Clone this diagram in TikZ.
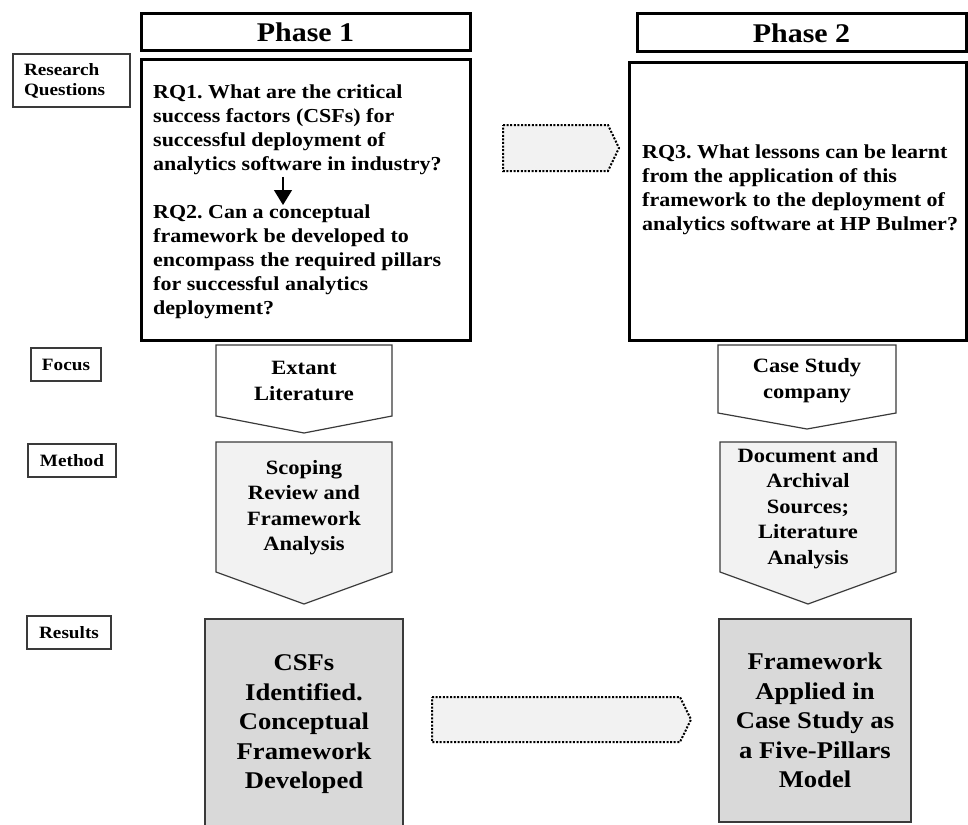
\documentclass[tikz,border=0pt]{standalone}
\usepackage{fontspec}
\setmainfont{Liberation Serif}[FakeStretch=1.11]
\usetikzlibrary{arrows.meta}
\definecolor{lightfill}{HTML}{F2F2F2}
\definecolor{resfill}{HTML}{D9D9D9}
\definecolor{edgegray}{HTML}{3A3A3A}
\frenchspacing
\begin{document}
\begin{tikzpicture}[x=1pt,y=-1pt]
\useasboundingbox (0,0) rectangle (968,824);
\tikzset{
  hdr/.style={draw=black, line width=3pt, inner sep=0pt},
  lblbox/.style={draw=edgegray, line width=1.3pt, inner sep=0pt,
     font=\fontsize{17.3}{20}\selectfont\bfseries},
  bodytext/.style={inner sep=0pt, align=left, anchor=north west,
     font=\fontsize{19.8}{24}\selectfont\bfseries},
  midtext/.style={inner sep=0pt, align=center,
     font=\fontsize{20.3}{25.5}\selectfont\bfseries},
  restext/.style={draw=edgegray, fill=resfill, line width=1.5pt, inner sep=0pt, align=center,
     font=\fontsize{24}{29.5}\selectfont\bfseries},
  penta/.style={draw=edgegray, line width=1.2pt, line join=miter},
  dotarrow/.style={draw=black, fill=lightfill, line width=2pt, dash pattern=on 2pt off 1.6pt},
}
% phase headers
\node[hdr, minimum width=329pt, minimum height=37pt, font=\fontsize{27}{30}\selectfont\bfseries] (ph1) at (305.5,32.5) {Phase 1};
\node[hdr, minimum width=329pt, minimum height=38pt, font=\fontsize{27}{30}\selectfont\bfseries] (ph2) at (801.5,33) {Phase 2};

% row labels
\node[lblbox, minimum width=117pt, minimum height=53pt, text width=95pt, inner xsep=11pt, align=left] (lrq) at (71.5,80.5) {Research\\Questions};
\node[lblbox, minimum width=70pt, minimum height=33pt] (lfocus) at (66,364.5) {Focus};
\node[lblbox, minimum width=88pt, minimum height=33pt] (lmethod) at (72,460.5) {Method};
\node[lblbox, minimum width=84pt, minimum height=33pt] (lresults) at (69,632.5) {Results};

% research question boxes
\node[hdr, minimum width=329pt, minimum height=280pt] (rqbox1) at (305.5,200) {};
\node[hdr, minimum width=337pt, minimum height=277pt] (rqbox2) at (797.5,201.5) {};

\node[bodytext] (rq1) at (153,85) {RQ1. What are the critical\\success factors (CSFs) for\\successful deployment of\\analytics software in industry?};
\node[bodytext] (rq2) at (153,205) {RQ2. Can a conceptual\\framework be developed to\\encompass the required pillars\\for successful analytics\\deployment?};
\node[bodytext] (rq3) at (642,145) {RQ3. What lessons can be learnt\\from the application of this\\framework to the deployment of\\analytics software at HP Bulmer?};

\coordinate (ax) at (283,0);
\draw[line width=1.3pt, -{Triangle[width=18pt,length=15pt]}] (rq1.south -| ax) ++(0,1.5) -- (rq2.north -| ax);

% dotted arrow between phases (RQ row)
\draw[dotarrow] (503,125) -- (608,125) -- (619,148) -- (608,171) -- (503,171) -- cycle;

% focus pentagons
\draw[penta, fill=white] (216,345) -- (392,345) -- (392,416) -- (304,433) -- (216,416) -- cycle;
\node[midtext] (foc1) at (304,381) {Extant\\Literature};
\draw[penta, fill=white] (718,345) -- (896,345) -- (896,413) -- (807,429) -- (718,413) -- cycle;
\node[midtext] (foc2) at (807,380.5) {Case Study\\company};

% method pentagons
\draw[penta, fill=lightfill] (216,442) -- (392,442) -- (392,572) -- (304,604) -- (216,572) -- cycle;
\node[midtext] (met1) at (304,507.5) {Scoping\\Review and\\Framework\\Analysis};
\draw[penta, fill=lightfill] (720,442) -- (896,442) -- (896,572) -- (808,604) -- (720,572) -- cycle;
\node[midtext] (met2) at (808,508.5) {Document and\\Archival\\Sources;\\Literature\\Analysis};

% results
\node[restext, minimum width=198pt, minimum height=211pt] (res1) at (304,724.5) {CSFs\\Identified.\\Conceptual\\Framework\\Developed};
\node[restext, minimum width=192pt, minimum height=203pt] (res2) at (815,720.5) {Framework\\Applied in\\Case Study as\\a Five-Pillars\\Model};

\draw[dotarrow] (432,697) -- (680,697) -- (691,719.5) -- (680,742) -- (432,742) -- cycle;
\end{tikzpicture}
\end{document}
